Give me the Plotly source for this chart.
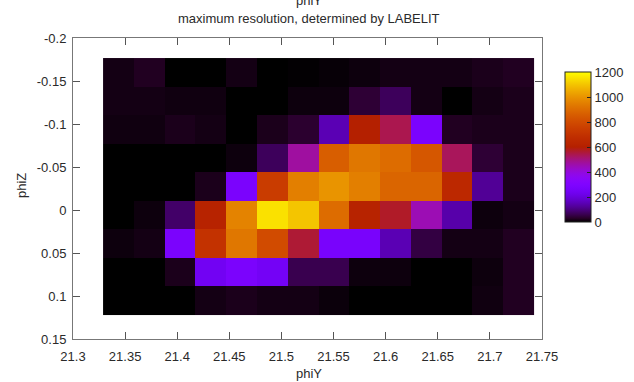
import math
import plotly.graph_objects as go

# ---- data ----
phi_y = [21.3436, 21.3731, 21.4027, 21.4322, 21.4618, 21.4913, 21.5208,
         21.5504, 21.5799, 21.6095, 21.6390, 21.6686, 21.6981, 21.7276]
phi_z = [-0.1601, -0.1269, -0.0937, -0.0605, -0.0273, 0.0059, 0.0391, 0.0723, 0.1055]

row_0 = [15, 25, 0, 0, 15, 0, 2, 5, 10, 15, 15, 15, 20, 25]
row_1 = [15, 15, 12, 12, 0, 0, 10, 10, 40, 70, 15, 0, 15, 20]
row_2 = [12, 12, 20, 15, 0, 20, 35, 150, 600, 540, 280, 25, 20, 20]
row_3 = [0, 0, 0, 0, 10, 70, 470, 860, 930, 900, 840, 530, 40, 20]
row_4 = [0, 0, 0, 20, 280, 740, 950, 1000, 950, 880, 880, 650, 120, 20]
row_5 = [0, 10, 80, 620, 960, 1150, 1100, 900, 620, 570, 450, 140, 10, 15]
row_6 = [10, 15, 280, 700, 930, 800, 560, 270, 270, 150, 50, 15, 15, 25]
row_7 = [0, 0, 20, 240, 280, 250, 60, 60, 10, 10, 0, 0, 10, 25]
row_8 = [0, 0, 0, 15, 20, 15, 15, 8, 0, 0, 0, 0, 12, 25]
counts = [row_0, row_1, row_2, row_3, row_4, row_5, row_6, row_7, row_8]

x_tick_vals = [21.3, 21.35, 21.4, 21.45, 21.5, 21.55, 21.6, 21.65, 21.7, 21.75]
x_tick_text = ["21.3", "21.35", "21.4", "21.45", "21.5", "21.55", "21.6", "21.65", "21.7", "21.75"]
y_tick_vals = [-0.2, -0.15, -0.1, -0.05, 0, 0.05, 0.1, 0.15]
y_tick_text = ["-0.2", "-0.15", "-0.1", "-0.05", "0", "0.05", "0.1", "0.15"]
cb_tick_vals = [0, 200, 400, 600, 800, 1000, 1200]

# gnuplot default palette (rgbformulae 7,5,15)
def pal(t):
    r = math.sqrt(t)
    g = t ** 3
    b = max(0.0, math.sin(2 * math.pi * t))
    return "rgb(%d,%d,%d)" % (round(r * 255), round(g * 255), round(b * 255))

n = 40
colorscale = [[i / n, pal(i / n)] for i in range(n + 1)]

FONT = "Liberation Sans, Arial, sans-serif"
FS = 13
TXT = "#2a2a2a"
W, H = 634, 382
L, R, T, B = 73, 542, 38, 339
pw, ph = R - L, B - T

def px_x(p):
    return (p - L) / pw

def px_y(p):
    return (B - p) / ph

fig = go.Figure(go.Heatmap(
    x=phi_y, y=phi_z, z=counts,
    colorscale=colorscale, zmin=0, zmax=1200,
    colorbar=dict(
        x=px_x(565), xanchor="left", xref="paper",
        y=px_y(147), yanchor="middle", yref="paper",
        len=150 / ph, lenmode="fraction",
        thickness=26, thicknessmode="pixels",
        outlinewidth=1, outlinecolor="#222",
        tickvals=cb_tick_vals, ticks="inside", ticklen=4, tickcolor="#222",
        tickfont=dict(family=FONT, size=FS, color=TXT),
        xpad=0, ypad=0,
    ),
))

axis_common = dict(
    showgrid=False, zeroline=False, showline=True, linecolor="#777", linewidth=1,
    mirror="ticks", ticks="inside", ticklen=7, tickcolor="#555",
    tickfont=dict(family=FONT, size=FS, color=TXT), automargin=False,
)

fig.update_layout(
    width=W, height=H,
    margin=dict(l=L, r=W - R, t=T, b=H - B, autoexpand=False),
    paper_bgcolor="white", plot_bgcolor="white",
    xaxis=dict(range=[21.3, 21.75], tickvals=x_tick_vals, ticktext=x_tick_text,
               ticklabelstandoff=5, **axis_common),
    yaxis=dict(range=[0.15, -0.2], tickvals=y_tick_vals, ticktext=y_tick_text,
               ticklabelstandoff=3, **axis_common),
    annotations=[
        dict(text="phiY", xref="paper", yref="paper", x=px_x(309), y=px_y(0),
             xanchor="center", yanchor="middle", showarrow=False,
             font=dict(family=FONT, size=FS, color=TXT)),
        dict(text="maximum resolution, determined by LABELIT", xref="paper", yref="paper",
             x=px_x(309), y=px_y(19), xanchor="center", yanchor="middle",
             showarrow=False, font=dict(family=FONT, size=FS, color=TXT)),
        dict(text="phiY", xref="paper", yref="paper", x=px_x(309), y=px_y(373),
             xanchor="center", yanchor="middle", showarrow=False,
             font=dict(family=FONT, size=FS, color=TXT)),
        dict(text="phiZ", xref="paper", yref="paper", x=px_x(21), y=px_y(186),
             xanchor="center", yanchor="middle", showarrow=False, textangle=-90,
             font=dict(family=FONT, size=FS, color=TXT)),
    ],
)

fig.write_html("out.html", config={"displayModeBar": False},
               post_script="document.body.style.margin='0';")
